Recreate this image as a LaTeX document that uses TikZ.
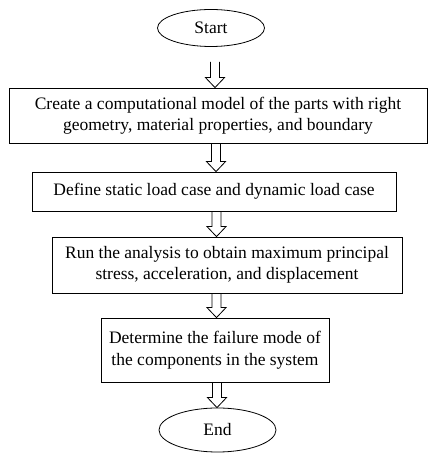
\documentclass[tikz,border=0pt]{standalone}
\usepackage{fontspec}
\setmainfont{Liberation Serif}
\usetikzlibrary{shapes.geometric,calc}
\tikzset{
  stepbox/.style={draw, line width=0.8pt, align=center, inner sep=0pt,
    font=\fontsize{17.5}{21.5}\selectfont},
  terminal/.style={draw, ellipse, line width=0.8pt, inner sep=0pt,
    font=\fontsize{17.5}{21.5}\selectfont},
  arrowline/.style={draw, line width=0.8pt, line join=miter}
}
% #1 x, #2 from, #3 gap below from, #4 to node
\newcommand\barrow[4]{%
  \draw[arrowline] let \p1=(#2), \p2=(#4.north) in
    (#1pt-4.5pt,\y1-#3pt) -- (#1pt-4.5pt,\y2+10pt) -- (#1pt-9.5pt,\y2+10pt)
    -- (#1pt,\y2) -- (#1pt+9.5pt,\y2+10pt) -- (#1pt+4.5pt,\y2+10pt)
    -- (#1pt+4.5pt,\y1-#3pt);}
\begin{document}
\begin{tikzpicture}[x=1pt,y=1pt]
\useasboundingbox (0,0) rectangle (432,460);
\node[terminal, minimum width=107pt, minimum height=37pt] (start) at (211,432) {Start};
\node[stepbox, minimum width=418pt, minimum height=55pt] (b1) at (218,344.5)
  {Create a computational model of the parts with right\\geometry, material properties, and boundary};
\node[stepbox, minimum width=364pt, minimum height=39pt] (b2) at (214,268.5)
  {Define static load case and dynamic load case};
\node[stepbox, minimum width=350pt, minimum height=56pt] (b3) at (227,195)
  {Run the analysis to obtain maximum principal\\stress, acceleration, and displacement};
\node[stepbox, minimum width=228pt, minimum height=64pt] (b4) at (215,110)
  {Determine the failure mode of\\the components in the system};
\node[terminal, minimum width=117pt, minimum height=44pt] (end) at (217.5,30) {End};
\barrow{215}{start.south}{15}{b1}
\barrow{216}{b1.south}{0}{b2}
\barrow{216.5}{b2.south}{0}{b3}
\barrow{216.5}{b3.south}{0}{b4}
\barrow{217}{b4.south}{0}{end}
\end{tikzpicture}
\end{document}
